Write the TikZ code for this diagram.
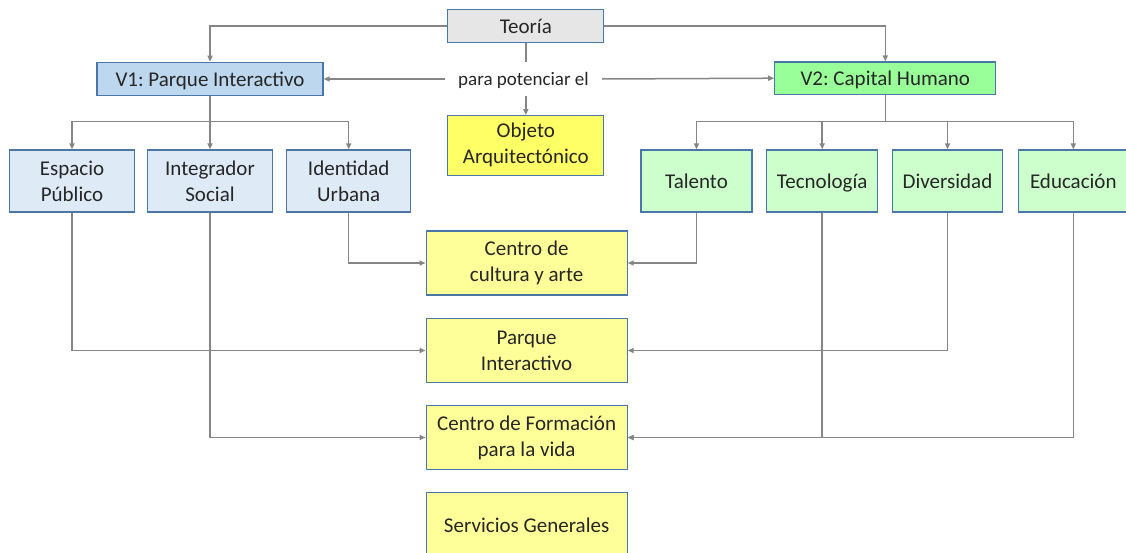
\documentclass[tikz,border=0pt]{standalone}
\usepackage{fontspec}
\setmainfont{Carlito}
\usetikzlibrary{arrows.meta}
\frenchspacing
\definecolor{bordc}{HTML}{4A76A8}
\definecolor{linec}{HTML}{858585}
\definecolor{grayf}{HTML}{E7E6E6}
\definecolor{vonef}{HTML}{BDD7EE}
\definecolor{bluef}{HTML}{DEEBF7}
\definecolor{vtwof}{HTML}{99FF99}
\definecolor{greenf}{HTML}{CCFFCC}
\definecolor{objf}{HTML}{FFFF66}
\definecolor{yellf}{HTML}{FFFF99}
\tikzset{
  box/.style={draw=bordc, line width=1.2pt, align=center, inner sep=0pt,
    font=\fontsize{21}{26}\selectfont\frenchspacing, text=black!85},
  oneline/.style={text height=17pt, text depth=2pt},
  conn/.style={draw=linec, line width=1.5pt},
  arr/.style={conn, -{Triangle[length=6pt,width=5pt]}},
}
\begin{document}
\begin{tikzpicture}[x=1pt,y=-1pt]
\useasboundingbox (0,0) rectangle (1126,553);
% top
\node[box, oneline, fill=grayf, minimum width=156pt, minimum height=33pt] (teoria) at (525.8,25.8) {Teoría};
\node[box, oneline, fill=vonef, minimum width=226pt, minimum height=33.5pt] (v1) at (210,79) {V1: Parque Interactivo};
\node[box, oneline, fill=vtwof, minimum width=221pt, minimum height=32.5pt] (v2) at (885.3,78.2) {V2: Capital Humano};
\node[inner sep=0pt, minimum width=157pt, minimum height=34pt, text height=16pt, text depth=2pt, font=\fontsize{19}{23}\selectfont, text=black!85] (lbl) at (523.5,79) {para potenciar el};
\node[box, fill=objf, minimum width=156pt, minimum height=59.5pt] (objeto) at (525.8,145.4) {Objeto\\Arquitectónico};
% left children
\node[box, fill=bluef, minimum width=125pt, minimum height=62pt] (esp) at (72,181) {Espacio\\Público};
\node[box, fill=bluef, minimum width=125pt, minimum height=62pt] (integ) at (210,181) {Integrador\\Social};
\node[box, fill=bluef, minimum width=124pt, minimum height=62pt] (ident) at (348.7,181) {Identidad\\Urbana};
% right children
\node[box, oneline, fill=greenf, minimum width=111pt, minimum height=62pt] (tal) at (696.5,181) {Talento};
\node[box, oneline, fill=greenf, minimum width=111pt, minimum height=62pt] (tec) at (822.2,181) {Tecnología};
\node[box, oneline, fill=greenf, minimum width=110.5pt, minimum height=62pt] (div) at (947.5,181) {Diversidad};
\node[box, oneline, fill=greenf, minimum width=110pt, minimum height=62pt] (edu) at (1073.3,181) {Educación};
% yellow boxes
\node[box, fill=yellf, minimum width=201pt, minimum height=64pt] (cult) at (526.6,263) {Centro de\\cultura y arte};
\node[box, fill=yellf, minimum width=201pt, minimum height=64.4pt] (parq) at (526.6,350.5) {Parque\\Interactivo};
\node[box, fill=yellf, minimum width=201pt, minimum height=63.6pt] (form) at (526.6,437.5) {Centro de Formación\\para la vida};
\node[box, oneline, fill=yellf, minimum width=201pt, minimum height=64pt] (serv) at (526.6,524.7) {Servicios Generales};
% connectors top
\draw[arr] (teoria.west) -| (v1.north);
\draw[arr] (teoria.east) -| (v2.north);
\draw[conn] (teoria.south) -- (teoria.south |- lbl.north);
\draw[arr] (lbl.west) -- (v1.east);
\draw[arr] (lbl.east) -- (v2.west);
\draw[arr] (teoria.south |- lbl.south) -- (objeto.north);
% trees
\coordinate (b1) at (210,121.5);
\coordinate (b2) at (885.3,121.5);
\draw[arr] (v1.south) -- (b1) -| (esp.north);
\draw[arr] (b1) -| (ident.north);
\draw[arr] (v1.south) -- (integ.north);
\draw[arr] (v2.south) -- (b2) -| (tal.north);
\draw[arr] (b2) -| (tec.north);
\draw[arr] (b2) -| (div.north);
\draw[arr] (b2) -| (edu.north);
% bottom links
\draw[arr] (ident.south) |- (cult.west);
\draw[arr] (tal.south) |- (cult.east);
\draw[arr] (esp.south) |- (parq.west);
\draw[arr] (div.south) |- (parq.east);
\draw[arr] (integ.south) |- (form.west);
\draw[arr] (tec.south) |- (form.east);
\draw[arr] (edu.south) |- (form.east);
\end{tikzpicture}
\end{document}
